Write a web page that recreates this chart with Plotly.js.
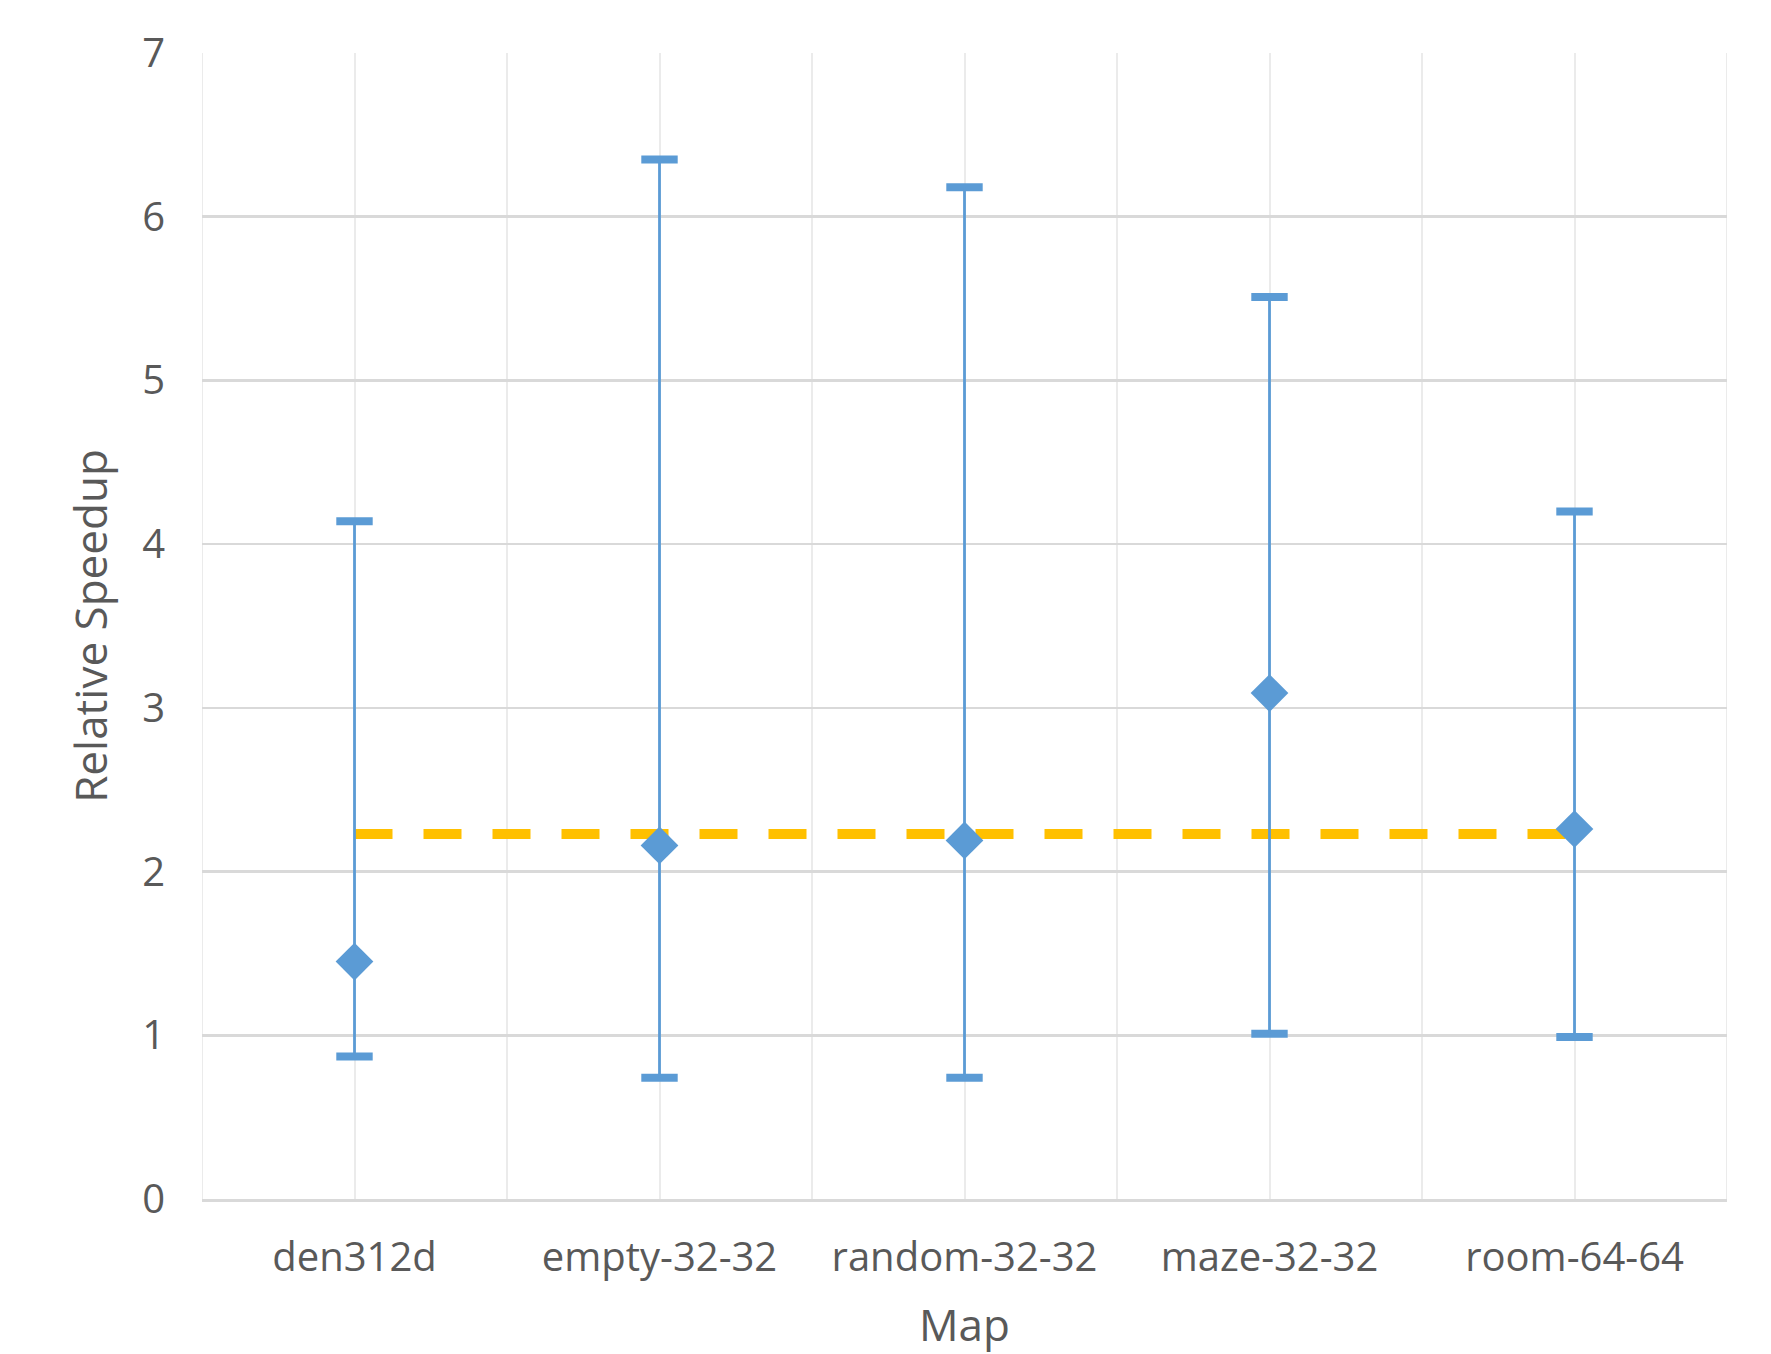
<!DOCTYPE html>
<html>
<head>
<meta charset="utf-8">
<script src="https://cdn.plot.ly/plotly-3.0.1.min.js"></script>
<style>
html,body{margin:0;padding:0;background:#fff;}
#chart{width:1771px;height:1354px;}
</style>
</head>
<body>
<div id="chart"></div>
<script>
// Data
const categories = ["den312d", "empty-32-32", "random-32-32", "maze-32-32", "room-64-64"];
const meanSpeedup = [1.45, 2.16, 2.19, 3.09, 2.26];
const maxSpeedup  = [4.14, 6.35, 6.18, 5.51, 4.20];
const minSpeedup  = [0.87, 0.74, 0.74, 1.01, 0.99];
const avgSpeedup  = [2.23, 2.23, 2.23, 2.23, 2.23];
const yTickVals = [0, 1, 2, 3, 4, 5, 6, 7];

const blue = "#5b9bd5";
const gold = "#ffc000";
const textColor = "#595959";
const fontFam = "'Open Sans', 'DejaVu Sans', sans-serif";

const errPlus = maxSpeedup.map((v, i) => v - meanSpeedup[i]);
const errMinus = meanSpeedup.map((v, i) => v - minSpeedup[i]);

const traces = [
  {
    type: "scatter", mode: "lines",
    x: categories, y: avgSpeedup,
    line: {color: gold, width: 10, dash: "38px,31px"},
    hoverinfo: "skip", showlegend: false
  },
  {
    type: "scatter", mode: "markers",
    x: categories.concat(categories),
    y: maxSpeedup.concat(minSpeedup),
    marker: {symbol: "line-ew", size: 26, color: blue, line: {color: blue, width: 8}},
    hoverinfo: "skip", showlegend: false
  },
  {
    type: "scatter", mode: "markers",
    x: categories, y: meanSpeedup,
    marker: {symbol: "diamond", size: 29, color: blue, line: {width: 0}},
    error_y: {
      type: "data", symmetric: false,
      array: errPlus, arrayminus: errMinus,
      width: 0, thickness: 2.8, color: blue
    },
    showlegend: false
  }
];

const shapes = [];
for (let i = 0; i <= categories.length; i++) {
  shapes.push({
    type: "line", xref: "x", yref: "paper",
    x0: i - 0.5, x1: i - 0.5, y0: 0, y1: 1,
    line: {color: "#ebebeb", width: 2}, layer: "below"
  });
}

const layout = {
  width: 1771, height: 1354,
  paper_bgcolor: "#ffffff", plot_bgcolor: "#ffffff",
  margin: {l: 202, r: 44, t: 53, b: 155},
  font: {family: fontFam, color: textColor, size: 40},
  showlegend: false,
  shapes: shapes,
  xaxis: {
    type: "category",
    categoryorder: "array", categoryarray: categories,
    range: [-0.5, 4.5],
    showgrid: true, gridcolor: "#ebebeb", gridwidth: 2,
    showline: true, linecolor: "#d9d9d9", linewidth: 3,
    zeroline: false, ticks: "",
    ticklabelstandoff: 21,
    tickfont: {family: fontFam, size: 40, color: textColor},
    title: {text: "Map", font: {family: fontFam, size: 44, color: textColor}, standoff: 40}
  },
  yaxis: {
    range: [0, 7],
    tickmode: "array", tickvals: yTickVals,
    showgrid: true, gridcolor: "#d9d9d9", gridwidth: 2.5,
    showline: false, zeroline: false, ticks: "",
    ticklabelstandoff: 36,
    tickfont: {family: fontFam, size: 40, color: textColor},
    title: {text: "Relative Speedup", font: {family: fontFam, size: 44, color: textColor}, standoff: 20}
  }
};

Plotly.newPlot("chart", traces, layout, {displayModeBar: false, staticPlot: true});
</script>
</body>
</html>
